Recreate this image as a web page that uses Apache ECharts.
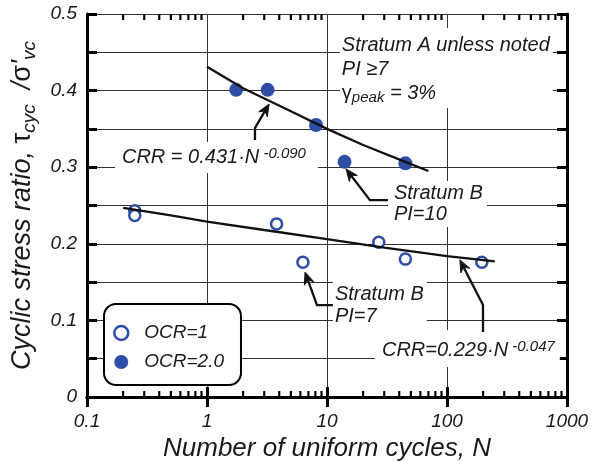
<!DOCTYPE html>
<html><head><meta charset="utf-8">
<script src="https://cdn.jsdelivr.net/npm/echarts@6/dist/echarts.min.js"></script>
<style>html,body{margin:0;padding:0;background:#fff}#c{width:599px;height:462px}</style>
</head><body><div id="c"></div>
<script>
const FONT = 'Liberation Sans, Arial, Helvetica, sans-serif';
const BLUE = '#2E4DA7';
const INK = '#1a1a1a';

// ---- data ----
const ocr1Cycles = [0.25, 0.25, 3.8, 6.3, 27, 45, 195];
const ocr1Ratio  = [0.243, 0.237, 0.226, 0.176, 0.202, 0.180, 0.176];
const ocr2Cycles = [1.75, 3.2, 8.1, 14, 45];
const ocr2Ratio  = [0.401, 0.401, 0.355, 0.307, 0.305];
const fitACycles = [1, 2, 5, 10, 20, 50, 70];
const fitARatio  = [0.431, 0.403, 0.373, 0.350, 0.329, 0.304, 0.295];
const fitBCycles = [0.2, 0.5, 1, 3, 10, 30, 100, 250];
const fitBRatio  = [0.247, 0.237, 0.229, 0.218, 0.206, 0.195, 0.184, 0.177];
const minorTickValues = [0.2,0.3,0.4,0.5,0.6,0.7,0.8,0.9, 2,3,4,5,6,7,8,9, 20,30,40,50,60,70,80,90, 200,300,400,500,600,700,800,900];
const xTickLabels = ['0.1', '1', '10', '100', '1000'];
const yTickLabels = ['0', '0.1', '0.2', '0.3', '0.4', '0.5'];
const seriesNames = ['OCR=1', 'OCR=2.0'];

// annotations (anchors in data coordinates)
const notes = [
  {at: [12.8, 0.4817], text: 'Stratum A unless noted\nPI \u22657\n{g|\u03b3}{sub|peak}{t| = 3%}', lh: 24, pad: [5, 3, 3, 2]},
  {at: [0.171, 0.3329], text: 'CRR = 0.431\u00b7N{sup| -0.090}', lh: 22, pad: [4, 12, 5, 7]},
  {at: [32.2, 0.282], text: 'Stratum B\nPI=10', lh: 21, pad: [2, 4, 2, 6]},
  {at: [11.2, 0.1527], text: 'Stratum B\nPI=7', lh: 22, pad: [3, 3, 2, 2]},
  {at: [25.1, 0.0875], text: 'CRR=0.229\u00b7N{sup| -0.047}', lh: 22, pad: [9, 5, 6, 7]}
];
const arrows = [
  [[2.51, 0.3355], [2.51, 0.351], [3.29, 0.3825]],
  [[32.2, 0.257], [22.8, 0.257], [14.4, 0.2977]],
  [[11.2, 0.120], [8.25, 0.120], [6.56, 0.163]],
  [[199.5, 0.085], [199.5, 0.120], [128, 0.179]]
];

const zip = (a, b) => a.map((v, i) => [v, b[i]]);

const chart = echarts.init(document.getElementById('c'), null, {renderer: 'canvas'});

const tickLabelStyle = {fontSize: 19, fontStyle: 'italic', fontFamily: FONT, color: INK};

const option = {
  animation: false,
  backgroundColor: '#fff',
  grid: {left: 87, right: 32, top: 14, bottom: 65, containLabel: false, outerBoundsMode: 'none'},
  legend: {
    orient: 'vertical', left: 104, top: 304,
    padding: [19, 17, 13, 9], itemGap: 9,
    itemWidth: 24, itemHeight: 14,
    backgroundColor: '#fff', borderColor: '#000', borderWidth: 2, borderRadius: 12,
    textStyle: {fontSize: 19, fontStyle: 'italic', fontFamily: FONT, color: INK, lineHeight: 20, padding: [0, 0, 0, 6]},
    data: [
      {name: seriesNames[0], icon: 'circle', itemStyle: {color: '#fff', borderColor: BLUE, borderWidth: 2.5}},
      {name: seriesNames[1], icon: 'circle', itemStyle: {color: BLUE, borderWidth: 0}}
    ],
    z: 20
  },
  xAxis: [
    {
      type: 'log', logBase: 10, min: 0.1, max: 1000, position: 'bottom',
      axisLine: {show: true, lineStyle: {color: '#000', width: 3}},
      axisTick: {show: true, inside: true, length: 10, lineStyle: {color: '#000', width: 3}},
      axisLabel: Object.assign({margin: 15, formatter: v => xTickLabels[Math.round(Math.log10(v)) + 1]}, tickLabelStyle),
      splitLine: {show: true, lineStyle: {color: '#333', width: 1}},
      name: 'Number of uniform cycles, N', nameLocation: 'middle', nameGap: 36,
      nameTextStyle: {fontSize: 26, fontStyle: 'italic', fontFamily: FONT, color: INK}
    },
    {
      type: 'log', logBase: 10, min: 0.1, max: 1000, position: 'top',
      axisLine: {show: true, lineStyle: {color: '#000', width: 3}},
      axisTick: {show: true, inside: true, length: 10, lineStyle: {color: '#000', width: 3}},
      axisLabel: {show: false}, splitLine: {show: false}
    }
  ],
  yAxis: [
    {
      type: 'value', min: 0, max: 0.5, interval: 0.05, position: 'left',
      axisLine: {show: true, lineStyle: {color: '#000', width: 3}},
      axisTick: {show: true, inside: true, length: 10, lineStyle: {color: '#000', width: 3}},
      axisLabel: Object.assign({margin: 10, formatter: v => {
        const k = Math.round(v * 100);
        return k % 10 === 0 ? yTickLabels[k / 10] : '';
      }}, tickLabelStyle),
      splitLine: {show: true, lineStyle: {color: '#333', width: 1}},
      name: 'Cyclic stress ratio, {g|\u03c4}{sub|cyc}{m|  /}{g|\u03c3}{m|\'}{sub|vc}',
      nameLocation: 'middle', nameGap: 36,
      nameTextStyle: {
        fontSize: 27, fontStyle: 'italic', fontFamily: FONT, color: INK, lineHeight: 34,
        rich: {
          g: {fontSize: 27, fontStyle: 'normal', fontFamily: FONT, color: INK, lineHeight: 34},
          m: {fontSize: 27, fontStyle: 'italic', fontFamily: FONT, color: INK, lineHeight: 34},
          sub: {fontSize: 19, fontStyle: 'italic', fontFamily: FONT, color: INK, lineHeight: 19, verticalAlign: 'bottom'}
        }
      }
    },
    {
      type: 'value', min: 0, max: 0.5, interval: 0.05, position: 'right',
      axisLine: {show: true, lineStyle: {color: '#000', width: 3}},
      axisTick: {show: true, inside: true, length: 10, lineStyle: {color: '#000', width: 3}},
      axisLabel: {show: false}, splitLine: {show: false}
    }
  ],
  series: [
    {
      name: seriesNames[0], type: 'scatter', xAxisIndex: 0, yAxisIndex: 0,
      symbol: 'circle', symbolSize: 11, z: 3,
      itemStyle: {color: '#fff', borderColor: BLUE, borderWidth: 2.5, opacity: 1},
      data: zip(ocr1Cycles, ocr1Ratio)
    },
    {
      name: seriesNames[1], type: 'scatter', xAxisIndex: 0, yAxisIndex: 0,
      symbol: 'circle', symbolSize: 14, z: 3,
      itemStyle: {color: BLUE, opacity: 1},
      data: zip(ocr2Cycles, ocr2Ratio)
    },
    {
      name: 'fitA', type: 'line', xAxisIndex: 0, yAxisIndex: 0, showSymbol: false, silent: true, z: 4,
      lineStyle: {color: '#111', width: 2.3}, data: zip(fitACycles, fitARatio)
    },
    {
      name: 'fitB', type: 'line', xAxisIndex: 0, yAxisIndex: 0, showSymbol: false, silent: true, z: 4,
      lineStyle: {color: '#111', width: 2.3}, data: zip(fitBCycles, fitBRatio)
    },
    {
      name: 'minorTicks', type: 'custom', xAxisIndex: 0, yAxisIndex: 0, silent: true, z: 6,
      data: minorTickValues.map(v => [v, 0]),
      encode: {x: 0, y: 1},
      renderItem: (params, api) => {
        const v = api.value(0);
        const b = api.coord([v, 0]);
        const t = api.coord([v, 0.5]);
        const st = {stroke: '#000', lineWidth: 2.2};
        return {type: 'group', children: [
          {type: 'line', shape: {x1: b[0], y1: b[1], x2: b[0], y2: b[1] - 6}, style: st},
          {type: 'line', shape: {x1: t[0], y1: t[1], x2: t[0], y2: t[1] + 6}, style: st}
        ]};
      }
    }
  ]
};
chart.setOption(option);

function px(p) { return chart.convertToPixel({xAxisIndex: 0, yAxisIndex: 0}, p); }

const richStyles = {
  sup: {fontSize: 15, fontStyle: 'italic', fontFamily: FONT, fill: INK, lineHeight: 15, verticalAlign: 'top'},
  sub: {fontSize: 15, fontStyle: 'italic', fontFamily: FONT, fill: INK, lineHeight: 15, verticalAlign: 'bottom'},
  g: {fontSize: 20, fontStyle: 'normal', fontFamily: FONT, fill: INK, lineHeight: 24},
  t: {fontSize: 20, fontStyle: 'italic', fontFamily: FONT, fill: INK, lineHeight: 24}
};

const graphics = [];
notes.forEach(n => {
  const p = px(n.at);
  graphics.push({
    type: 'text', x: p[0], y: p[1], z: 10, silent: true,
    style: {
      text: n.text, font: 'italic 20px ' + FONT, fill: INK,
      lineHeight: n.lh, backgroundColor: '#fff', padding: n.pad,
      align: 'left', verticalAlign: 'top', textAlign: 'left', textVerticalAlign: 'top',
      rich: richStyles
    }
  });
});
arrows.forEach(a => {
  const pts = a.map(px);
  const tip = pts[pts.length - 1], prev = pts[pts.length - 2];
  let dx = tip[0] - prev[0], dy = tip[1] - prev[1];
  const len = Math.hypot(dx, dy); dx /= len; dy /= len;
  const L = 12, W = 5;
  const base = [tip[0] - dx * L, tip[1] - dy * L];
  const nx = -dy, ny = dx;
  const linePts = pts.slice(0, -1).concat([[tip[0] - dx * 8, tip[1] - dy * 8]]);
  graphics.push({type: 'polyline', z: 11, silent: true, shape: {points: linePts},
    style: {stroke: '#111', lineWidth: 2.3, fill: null}});
  graphics.push({type: 'polygon', z: 11, silent: true, shape: {points: [
      tip, [base[0] + nx * W, base[1] + ny * W], [tip[0] - dx * 8, tip[1] - dy * 8], [base[0] - nx * W, base[1] - ny * W]
    ]}, style: {fill: '#111', stroke: '#111', lineWidth: 1}});
});
chart.setOption({graphic: graphics});
</script>
</body></html>
